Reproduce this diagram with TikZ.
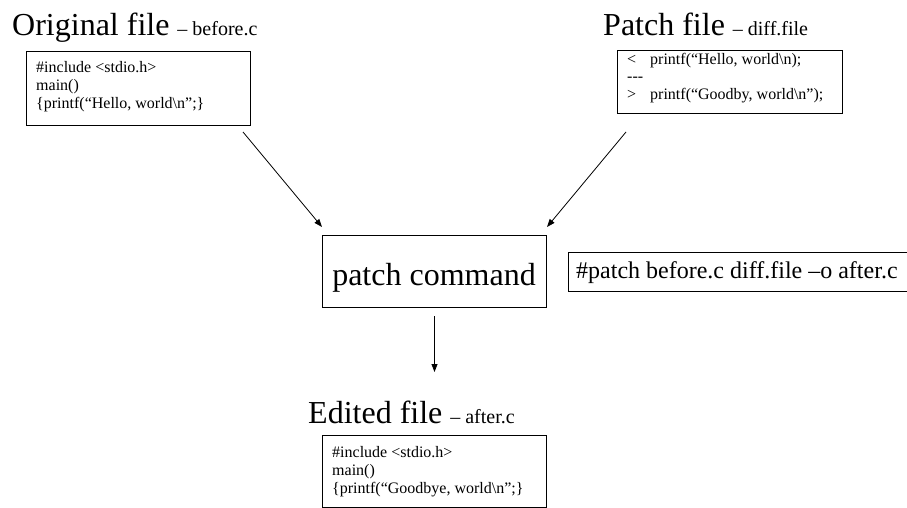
\documentclass[tikz,border=0pt]{standalone}
\usepackage{fontspec}
\setmainfont{Liberation Serif}
\usetikzlibrary{arrows.meta}
\begin{document}
\begin{tikzpicture}[x=1pt,y=-1pt,
  box/.style={draw, line width=1pt, inner sep=0pt, anchor=north west},
  code/.style={anchor=base west, inner sep=0pt, font=\fontsize{16}{18}\selectfont},
  title/.style={anchor=base west, inner sep=0pt, font=\fontsize{32}{38}\selectfont},
  conn/.style={line width=0.8pt, -{Triangle[length=8pt,width=6pt]}}]
\useasboundingbox (0,0) rectangle (907,508);
% titles
\node[title] (t1) at (12,36) {Original file {\fontsize{20}{24}\selectfont – before.c}};
\node[title] (t2) at (603,36) {Patch file {\fontsize{20}{24}\selectfont – diff.file}};
\node[title] (t3) at (308,423) {Edited file {\fontsize{20}{24}\selectfont – after.c}};
% boxes
\node[box, minimum width=224pt, minimum height=74pt] (orig) at (26,51) {};
\node[box, minimum width=225pt, minimum height=63pt] (pf) at (617,50) {};
\node[box, minimum width=224pt, minimum height=72pt] (patch) at (322,235) {};
\node[box, minimum width=344pt, minimum height=39pt] (cmd) at (568,252) {};
\node[box, minimum width=224pt, minimum height=72pt] (edited) at (322,435) {};
% original code
\node[code] (o1) at (36,73) {\#include <stdio.h>};
\node[code] (o2) at (36,91) {main()};
\node[code] (o3) at (36,109) {\{printf(“Hello, world\textbackslash n”;\}};
% patch file code
\node[code] (p1a) at (627,65) {<};
\node[code] (p1) at (650,65) {printf(“Hello, world\textbackslash n);};
\node[code] (p2) at (627,82) {-\kern0pt-\kern0pt-};
\node[code] (p3a) at (627,100) {>};
\node[code] (p3) at (650,100) {printf(“Goodby, world\textbackslash n”);};
% edited code
\node[code] (e1) at (332,457) {\#include <stdio.h>};
\node[code] (e2) at (332,475) {main()};
\node[code] (e3) at (332,493) {\{printf(“Goodbye, world\textbackslash n”;\}};
% command texts
\node[anchor=base, inner sep=0pt, font=\fontsize{32}{38}\selectfont] (pc) at (434,285) {patch command};
\node[anchor=base west, inner sep=0pt, font=\fontsize{24}{28}\selectfont] (cmdt) at (576,278) {\#patch before.c diff.file –o after.c};
% connectors
\draw[conn] ([shift={(-8,6)}]orig.south east) -- ([shift={(0,-8)}]patch.north west);
\draw[conn] ([shift={(9,18)}]pf.south west) -- ([shift={(0,-8)}]patch.north east);
\draw[conn] ([shift={(0,8)}]patch.south) -- ([shift={(0,-63)}]edited.north);
\end{tikzpicture}
\end{document}
